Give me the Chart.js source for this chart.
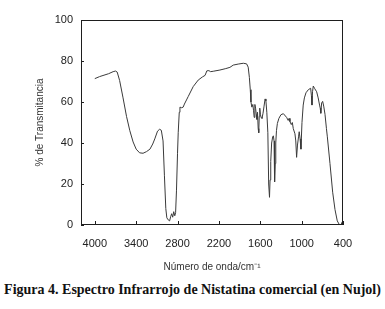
<!DOCTYPE html>
<html>
<head>
<meta charset="utf-8">
<script src="https://cdn.jsdelivr.net/npm/chart.js@4"></script>
<style>
  html, body { margin: 0; padding: 0; background: #fff; }
  #wrap { width: 385px; height: 277px; }
  #caption {
    width: 385px; height: 32px; margin: 0; padding-top: 4px; box-sizing: border-box;
    font: bold 14px/18px "Liberation Serif", "Times New Roman", serif;
    color: #111; text-align: center; white-space: nowrap;
  }
</style>
</head>
<body>
<div id="wrap"><canvas id="irChart"></canvas></div>
<p id="caption">Figura 4. Espectro Infrarrojo de Nistatina comercial (en Nujol)</p>
<script>
// IR spectrum (wavenumber in cm-1, % transmittance)
const wavenumbers = [
  4000, 3930, 3800, 3734, 3700, 3675, 3640, 3590, 3540, 3492, 3444, 3400, 3350, 3300,
  3250, 3200, 3160, 3130, 3090, 3060, 3035, 3010, 2990, 2970, 2955, 2935, 2915, 2900,
  2885, 2870, 2855, 2840, 2828, 2815, 2800, 2790, 2775, 2765, 2740, 2718, 2700, 2670,
  2646, 2573, 2500, 2440, 2400, 2375, 2345, 2320, 2282, 2185, 2100, 2040, 1992, 1920,
  1845, 1798, 1775, 1758, 1745, 1735, 1722, 1708, 1698, 1688, 1678, 1668, 1658, 1648,
  1640, 1630, 1622, 1615, 1607, 1598, 1588, 1575, 1560, 1545, 1530, 1518, 1505, 1490,
  1478, 1466, 1458, 1448, 1435, 1420, 1410, 1400, 1392, 1383, 1375, 1365, 1352, 1330,
  1300, 1265, 1218, 1195, 1182, 1169, 1150, 1135, 1121, 1097, 1085, 1073, 1060, 1045,
  1035, 1022, 1010, 995, 977, 960, 937, 903, 869, 858, 850, 842, 831, 810, 782, 760,
  740, 730, 722, 710, 695, 680, 661, 640, 627, 589, 550, 516, 483, 455, 438, 425, 412
];
const transmittance = [
  71.4, 72.4, 73.8, 74.8, 75.1, 74.6, 70.5, 62.0, 53.0, 46.0, 40.5, 37.0, 35.2, 35.0,
  35.8, 37.0, 39.5, 42.0, 45.8, 46.7, 46.2, 41.0, 24.0, 8.0, 3.5, 2.5, 2.0, 4.0,
  5.5, 3.8, 6.5, 4.5, 6.0, 17.0, 35.0, 45.0, 55.0, 57.5, 57.2, 57.5, 59.0, 61.0,
  62.6, 67.5, 70.7, 72.2, 73.0, 75.2, 75.3, 74.8, 75.0, 75.6, 76.3, 76.9, 78.0, 78.5,
  78.9, 78.6, 77.0, 72.0, 66.0, 60.0, 57.5, 58.8, 56.0, 52.5, 58.8, 57.0, 54.0, 51.5,
  55.0, 47.0, 45.0, 53.0, 57.0, 54.0, 52.5, 52.0, 54.5, 58.0, 61.5, 60.5, 55.0, 45.0,
  20.0, 13.5, 22.0, 31.0, 40.0, 43.0, 43.5, 41.0, 21.0, 30.0, 40.0, 46.0, 49.5, 52.0,
  53.8, 54.3, 52.5, 51.0, 52.0, 50.4, 49.0, 50.0, 47.0, 44.5, 41.0, 33.0, 39.0, 43.0,
  45.5, 42.0, 37.0, 50.0, 58.5, 62.0, 64.5, 66.0, 66.7, 63.0, 58.5, 65.0, 67.8, 66.5,
  65.0, 62.0, 58.5, 57.0, 54.5, 59.5, 60.3, 58.0, 54.0, 47.0, 43.0, 30.0, 16.0, 7.5,
  2.0, 0.3, 0.0, 0.4, 1.5
];
const xTicks = [4000, 3400, 2800, 2200, 1600, 1000, 400];
const yTicks = [0, 20, 40, 60, 80, 100];

const frame = {
  id: 'frame',
  afterDraw(chart) {
    const { ctx, chartArea: a, scales: { x, y } } = chart;
    ctx.save();
    ctx.strokeStyle = '#1e1e1e';
    ctx.lineWidth = 1;
    ctx.strokeRect(a.left + 0.5, a.top + 0.5, a.right - a.left - 1, a.bottom - a.top - 1);
    ctx.beginPath();
    xTicks.forEach(v => {
      const px = Math.round(x.getPixelForValue(v)) + 0.5;
      ctx.moveTo(px, a.bottom); ctx.lineTo(px, a.bottom - 4);
    });
    yTicks.forEach(v => {
      const py = Math.round(y.getPixelForValue(v)) + 0.5;
      ctx.moveTo(a.left, py); ctx.lineTo(a.left + 3, py);
    });
    ctx.stroke();
    ctx.restore();
  }
};

const tickFont = { family: '"Liberation Sans", Arial, sans-serif', size: 11 };
const titleFont = { family: '"Liberation Sans", Arial, sans-serif', size: 10 };

new Chart(document.getElementById('irChart'), {
  type: 'scatter',
  data: {
    datasets: [{
      data: wavenumbers.map((w, i) => ({ x: w, y: transmittance[i] })),
      showLine: true,
      borderColor: '#3a3a3a',
      borderWidth: 1,
      pointRadius: 0,
      tension: 0,
    }],
  },
  options: {
    responsive: true,
    maintainAspectRatio: false,
    animation: false,
    devicePixelRatio: 1,
    layout: { padding: { left: 0, right: 42, top: 20, bottom: 0 } },
    plugins: {
      legend: { display: false },
      tooltip: { enabled: false },
    },
    scales: {
      x: {
        type: 'linear',
        reverse: true,
        min: 400,
        max: 4200,
        afterBuildTicks: s => { s.ticks = xTicks.map(v => ({ value: v })); },
        afterFit: s => { s.height = 52; },
        grid: { display: false, drawTicks: false },
        border: { display: false },
        ticks: { font: tickFont, color: '#222', padding: 12, maxRotation: 0, autoSkip: false, callback: v => String(v) },
        title: { display: true, text: 'Número de onda/cm⁻¹', font: titleFont, color: '#333', padding: { top: 0, bottom: 4 } },
      },
      y: {
        min: 0,
        max: 100,
        afterBuildTicks: s => { s.ticks = yTicks.map(v => ({ value: v })); },
        afterFit: s => { s.width = 81; },
        grid: { display: false, drawTicks: false },
        border: { display: false },
        ticks: { font: tickFont, color: '#222', padding: 8, callback: v => String(v) },
        title: { display: true, text: '% de Transmitancia', font: titleFont, color: '#333', padding: { top: 34, bottom: 0 } },
      },
    },
  },
  plugins: [frame],
});
</script>
</body>
</html>
